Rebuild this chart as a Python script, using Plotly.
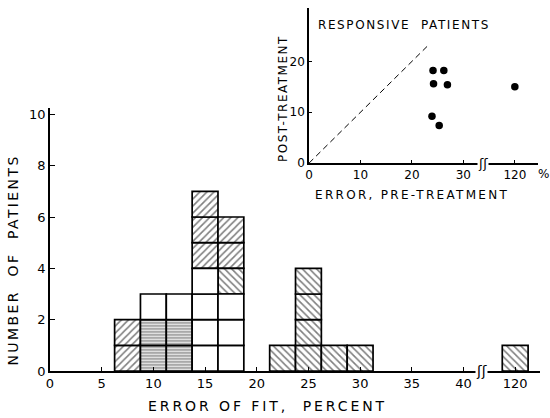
import plotly.graph_objects as go

# ---------------- data ----------------
# main histogram: bin centres (error of fit, %) and the cells stacked in each bin,
# bottom to top.  A = "/" hatch, B = "\" hatch, H = horizontal lines, W = open
bin_centers = [7.5, 10, 12.5, 15, 17.5, 22.5, 25, 27.5, 30, 120]
bin_cells = ["AA", "HHW", "HHW", "WWWWAAA", "WWWBAA", "B", "BBBB", "B", "B", "B"]
bin_width = 2.5
x_tick_values = [0, 5, 10, 15, 20, 25, 30, 35, 40, 120]
y_tick_values = [0, 2, 4, 6, 8, 10]

# inset: responsive patients, error before vs after treatment (%)
pre_treatment = [24.1, 26.2, 24.2, 26.9, 23.9, 25.3, 120]
post_treatment = [18.2, 18.2, 15.6, 15.4, 9.2, 7.4, 15.0]
identity_end = 23
inset_x_ticks = [0, 10, 20, 30, 120]
inset_y_ticks = [0, 10, 20]


def main_pos(v):
    # broken axis: 120 % is drawn just past the break after 40 %
    return v if v <= 40 else 45


def inset_pos(v):
    return v if v <= 35 else 40


FONT = "DejaVu Sans"
patterns = {
    "A": dict(shape="/", size=5, solidity=0.32),
    "B": dict(shape="\\", size=5, solidity=0.32),
    "H": dict(shape="-", size=3, solidity=0.5),
    "W": dict(shape="", size=6, solidity=0.2),
}

fig = go.Figure()

for code, pat in patterns.items():
    xs, bases = [], []
    for c, cells in zip(bin_centers, bin_cells):
        for level, cell in enumerate(cells):
            if cell == code:
                xs.append(main_pos(c))
                bases.append(level)
    fig.add_trace(go.Bar(
        x=xs, y=[1] * len(xs), base=bases, width=bin_width,
        marker=dict(color="white", line=dict(color="black", width=1.7),
                    pattern=dict(fgcolor="black", bgcolor="white", **pat)),
        showlegend=False, hoverinfo="skip", xaxis="x", yaxis="y"))

# inset
fig.add_trace(go.Scatter(
    x=[0, identity_end], y=[0, identity_end], mode="lines",
    line=dict(color="black", width=1, dash="6px,4px"),
    showlegend=False, xaxis="x2", yaxis="y2"))
fig.add_trace(go.Scatter(
    x=[inset_pos(v) for v in pre_treatment], y=post_treatment, mode="markers",
    marker=dict(color="black", size=7.5),
    showlegend=False, xaxis="x2", yaxis="y2"))

L, R, T, B = 50, 10, 5, 47
W, H = 550, 418
PW, PH = W - L - R, H - T - B


def px(xp):
    return (xp - L) / PW


def py(yp):
    return (H - B - yp) / PH


axis_common = dict(showgrid=False, zeroline=False, showline=True, linecolor="black",
                   ticks="inside", tickcolor="black", mirror=False)

fig.update_layout(
    width=W, height=H, margin=dict(l=L, r=R, t=T, b=B),
    plot_bgcolor="white", paper_bgcolor="white", barmode="overlay",
    font=dict(family=FONT, color="black", size=13),
    xaxis=dict(range=[0, 47.4], domain=[0, 1], linewidth=1.6, ticklen=4,
               tickvals=[main_pos(v) for v in x_tick_values],
               ticktext=[str(v) for v in x_tick_values],
               tickfont=dict(size=13), anchor="y", **axis_common),
    yaxis=dict(range=[0, 10.23], domain=[0, py(107)], linewidth=1.6, ticklen=5,
               tickvals=y_tick_values, tickfont=dict(size=13), anchor="x",
               **axis_common),
    xaxis2=dict(range=[0, 44.5], domain=[px(309), px(538)], linewidth=1.6, ticklen=3,
                tickvals=[inset_pos(v) for v in inset_x_ticks],
                ticktext=[str(v) for v in inset_x_ticks],
                tickfont=dict(size=12), anchor="y2", **axis_common),
    yaxis2=dict(range=[0, 30.5], domain=[py(162), py(6)], linewidth=1.6, ticklen=3,
                tickvals=inset_y_ticks, tickfont=dict(size=12), anchor="x2",
                **axis_common),
)

ann = [
    dict(text="ERROR OF FIT,  PERCENT", x=px(268), y=py(406), size=14, angle=0),
    dict(text="NUMBER  OF  PATIENTS", x=px(13), y=py(260), size=14, angle=-90),
    dict(text="ERROR, PRE-TREATMENT", x=px(412), y=py(194), size=12, angle=0),
    dict(text="POST-TREATMENT", x=px(283), y=py(97), size=12, angle=-90),
    dict(text="RESPONSIVE  PATIENTS", x=px(404), y=py(23), size=12, angle=0),
    dict(text="%", x=px(543), y=py(173), size=12, angle=0),
]
for a in ann:
    fig.add_annotation(text=a["text"], x=a["x"], y=a["y"], xref="paper", yref="paper",
                       showarrow=False, textangle=a["angle"],
                       font=dict(family=FONT, size=a["size"], color="black"),
                       xanchor="center", yanchor="middle")

# axis break marks
fig.add_annotation(text="ʃʃ", x=41.7, y=0, xref="x", yref="y", showarrow=False,
                   bgcolor="white", font=dict(family=FONT, size=14, color="black"),
                   borderpad=0)
fig.add_annotation(text="ʃʃ", x=33.8, y=0, xref="x2", yref="y2", showarrow=False,
                   bgcolor="white", font=dict(family=FONT, size=13, color="black"),
                   borderpad=0)

post_js = """
document.body.style.margin='0';
var sp={'ERROR OF FIT,  PERCENT':'2.9px','NUMBER  OF  PATIENTS':'2.4px',
        'ERROR, PRE-TREATMENT':'2.3px','POST-TREATMENT':'1.5px',
        'RESPONSIVE  PATIENTS':'1.6px'};
document.querySelectorAll('.annotation-text').forEach(function(e){
  var t=e.textContent.replace(/\\u00a0/g,' ');
  if(sp[t]){e.style.letterSpacing=sp[t];}
});
"""

fig.write_html("out.html", post_script=post_js, config={"displayModeBar": False})
